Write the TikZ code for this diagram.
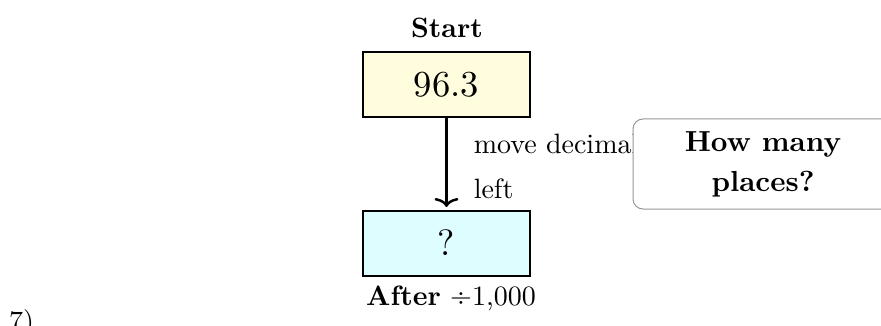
\documentclass[tikz,border=0pt]{standalone}
\usepackage{fontspec}
\setmainfont{lmroman10-regular.otf}[BoldFont=lmroman10-bold.otf, ItalicFont=lmroman10-italic.otf, BoldItalicFont=lmroman10-bolditalic.otf]
\usetikzlibrary{arrows.meta}
\definecolor{boxyellow}{RGB}{255,253,222}
\definecolor{boxcyan}{RGB}{222,253,255}
\definecolor{calloutgray}{RGB}{150,150,150}
\tikzset{
  txt/.style={font=\fontsize{28}{45}\selectfont, inner sep=0pt},
  boldtxt/.style={font=\bfseries\fontsize{28}{44}\selectfont, inner sep=0pt},
  valbox/.style={draw=black, line width=2pt, minimum width=167pt, minimum height=65pt, inner sep=0pt, font=\fontsize{36.6}{44}\selectfont},
  flow/.style={line width=2.5pt, -{To[length=9pt,width=24pt]}},
  callout/.style={draw=calloutgray, line width=1pt, rounded corners=10pt, fill=white, minimum width=260pt, minimum height=90pt, inner sep=0pt, align=center, font=\bfseries\fontsize{29}{40}\selectfont}
}
\begin{document}
\begin{tikzpicture}[x=1pt,y=-1pt]
\clip (0,0) rectangle (881,326);
\useasboundingbox (0,0) rectangle (881,326);
\node[boldtxt] (start) at (447,28) {Start};
\node[valbox, fill=boxyellow] (top) at (446.5,84.5) {96.3};
\node[valbox, fill=boxcyan] (bot) at (446.5,243) {?};
\draw[flow, shorten >=2.5pt] (top) -- node[txt, anchor=west, align=left, xshift=26pt, yshift=-2.5pt] (lbl) {move decimal\\left} (bot);
\node[callout] (ask) at (763,164) {How many\\places?};
\node[txt, anchor=base] (after) at (451,305) {\textbf{After} ÷1,000};
\node[txt, anchor=base west] (num) at (9,330) {7)};
\end{tikzpicture}
\end{document}
